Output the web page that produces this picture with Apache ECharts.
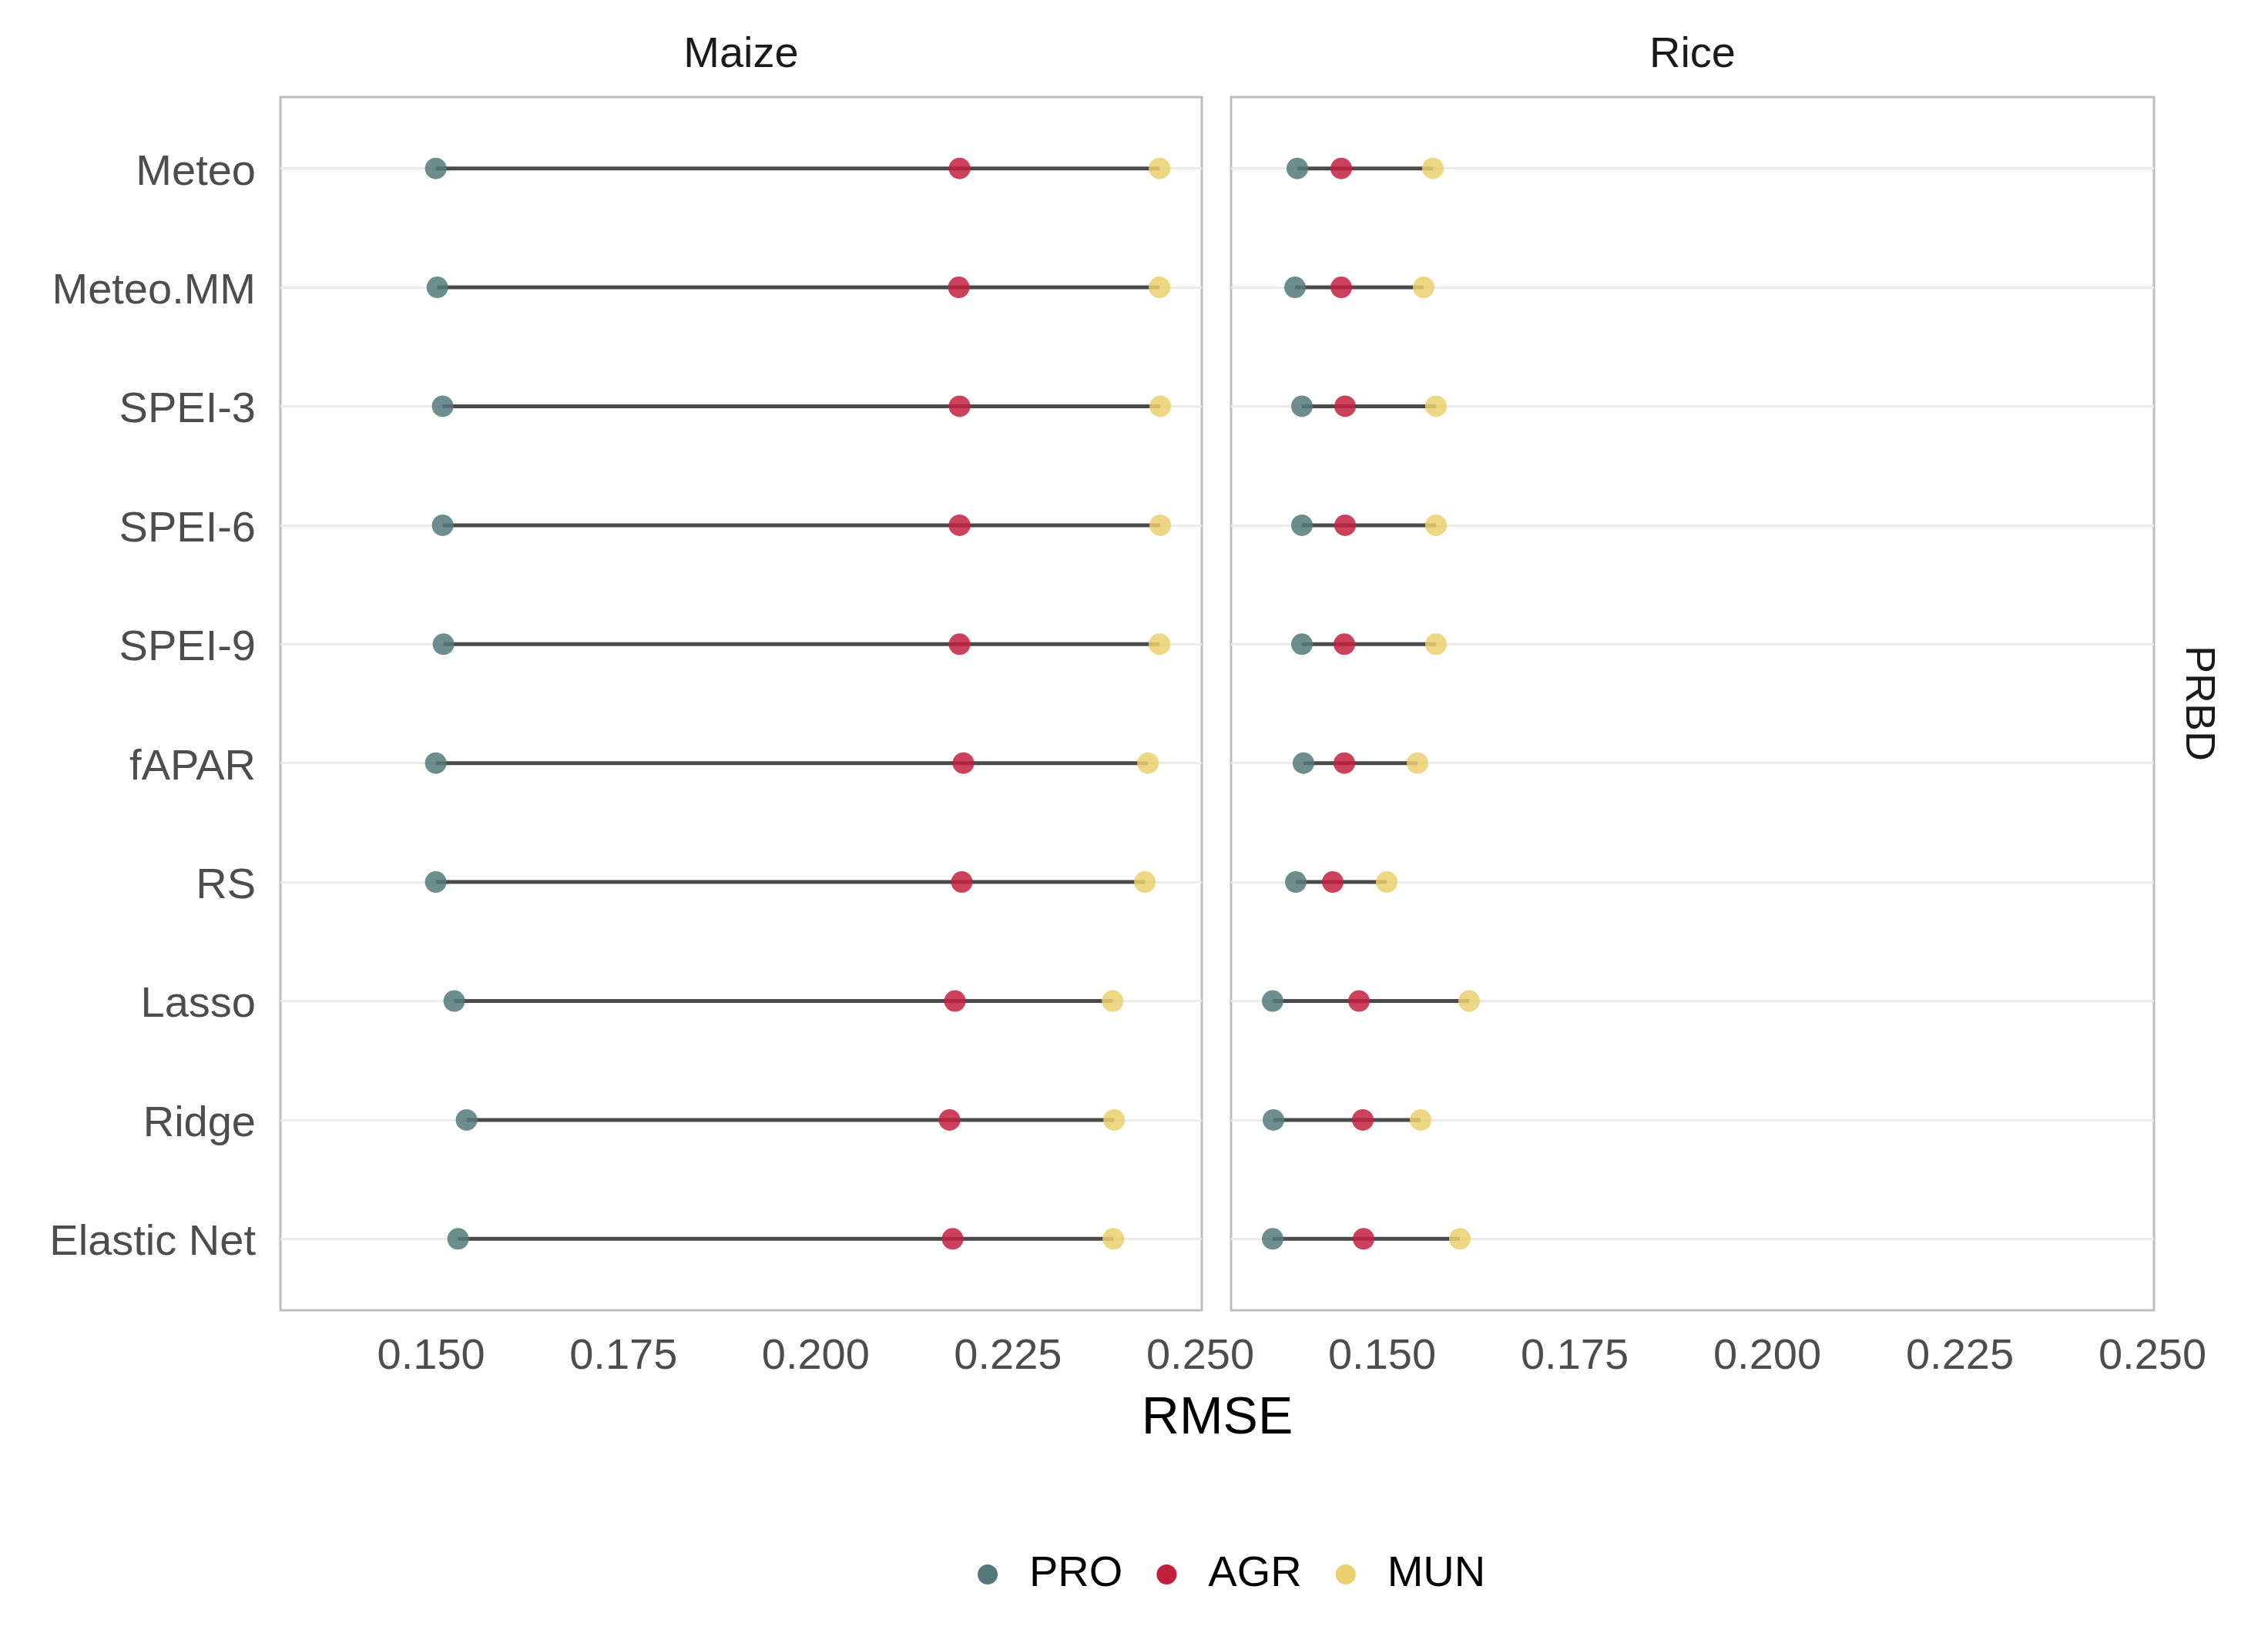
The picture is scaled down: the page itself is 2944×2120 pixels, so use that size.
<!DOCTYPE html>
<html>
<head>
<meta charset="utf-8">
<script src="https://cdn.jsdelivr.net/npm/echarts@6/dist/echarts.min.js"></script>
<style>
html,body{margin:0;padding:0;background:#fff;}
#chart{width:2944px;height:2120px;}
</style>
</head>
<body>
<div id="chart"></div>
<script>
var categories = ['Meteo','Meteo.MM','SPEI-3','SPEI-6','SPEI-9','fAPAR','RS','Lasso','Ridge','Elastic Net'];
var panels = ['Maize','Rice'];
var seriesNames = ['PRO','AGR','MUN'];
var xTicks = [0.150, 0.175, 0.200, 0.225, 0.250];

var maizePRO = [0.1506,0.1508,0.1515,0.1515,0.1516,0.1506,0.1506,0.1530,0.1546,0.1535];
var maizeAGR = [0.2187,0.2186,0.2187,0.2187,0.2187,0.2192,0.2190,0.2181,0.2174,0.2178];
var maizeMUN = [0.2447,0.2447,0.2448,0.2448,0.2447,0.2432,0.2428,0.2386,0.2388,0.2387];

var ricePRO = [0.1390,0.1387,0.1396,0.1396,0.1396,0.1398,0.1388,0.1358,0.1359,0.1358];
var riceAGR = [0.1447,0.1447,0.1452,0.1452,0.1451,0.1451,0.1436,0.1470,0.1475,0.1476];
var riceMUN = [0.1566,0.1554,0.1570,0.1570,0.1570,0.1546,0.1506,0.1613,0.1550,0.1601];

var colors = {PRO:'#55797b', AGR:'#c3203f', MUN:'#ebd06f'};
var FONT = 'Liberation Sans, Arial, sans-serif';

var panelData = [
  {PRO: maizePRO, AGR: maizeAGR, MUN: maizeMUN},
  {PRO: ricePRO, AGR: riceAGR, MUN: riceMUN}
];

var yIdx = categories.map(function(c,i){return i;});

var grids = [
  {left:364, right:1384, top:126, bottom:419, show:true, borderColor:'#bdbdbd', borderWidth:3, backgroundColor:'transparent'},
  {left:1598, right:148, top:126, bottom:419, show:true, borderColor:'#bdbdbd', borderWidth:3, backgroundColor:'transparent'}
];

var xAxes = [0,1].map(function(g){
  return {
    type:'value', gridIndex:g, min:0.1304, max:0.2502,
    axisLine:{show:false}, axisTick:{show:false, customValues:xTicks},
    splitLine:{show:false},
    axisLabel:{customValues:xTicks, formatter:function(v){return v.toFixed(3);},
      fontFamily:FONT, fontSize:56, color:'#4d4d4d', margin:33}
  };
});

var yAxes = [0,1].map(function(g){
  return {
    type:'value', gridIndex:g, min:-0.6, max:9.6, inverse:true,
    axisLine:{show:false}, axisTick:{show:false, customValues:yIdx},
    splitLine:{show:true, lineStyle:{color:'#ebebeb', width:3}},
    axisLabel:{show:g===0, customValues:yIdx, formatter:function(v){return categories[Math.round(v)];},
      fontFamily:FONT, fontSize:56, color:'#4d4d4d', margin:32, verticalAlign:'top', lineHeight:11}
  };
});

var series = [];
panelData.forEach(function(pd, g){
  var segs = categories.map(function(c,i){
    var vals = [pd.PRO[i], pd.AGR[i], pd.MUN[i]];
    return [Math.min.apply(null, vals), Math.max.apply(null, vals), i];
  });
  series.push({
    type:'custom', xAxisIndex:g, yAxisIndex:g, z:1, silent:true,
    encode:{x:[0,1], y:2},
    data: segs,
    renderItem:function(params, api){
      var p1 = api.coord([api.value(0), api.value(2)]);
      var p2 = api.coord([api.value(1), api.value(2)]);
      return {type:'line', shape:{x1:p1[0], y1:p1[1], x2:p2[0], y2:p2[1]},
        style:{stroke:'#4a4a4a', lineWidth:5}};
    }
  });
  seriesNames.forEach(function(name){
    series.push({
      type:'scatter', name:name, xAxisIndex:g, yAxisIndex:g, z:3,
      symbol:'circle', symbolSize:28,
      itemStyle:{color:colors[name], opacity:0.85},
      data: categories.map(function(c,i){return [pd[name][i], i];})
    });
  });
});

var option = {
  backgroundColor:'#fff',
  animation:false,
  grid: grids,
  xAxis: xAxes,
  yAxis: yAxes,
  legend:{
    data: seriesNames.map(function(n){return {name:n, itemStyle:{color:colors[n], opacity:1}};}),
    left:1264, top:2011, orient:'horizontal',
    icon:'circle', itemWidth:26, itemHeight:26, itemGap:44,
    textStyle:{fontFamily:FONT, fontSize:56, color:'#000', padding:[0,0,0,36]}
  },
  graphic:[
    {type:'text', style:{text:'Maize', x:962, y:72, align:'center', verticalAlign:'middle', font:'56px ' + FONT, fill:'#1a1a1a'}},
    {type:'text', style:{text:'Rice', x:2197, y:72, align:'center', verticalAlign:'middle', font:'56px ' + FONT, fill:'#1a1a1a'}},
    {type:'text', style:{text:'RMSE', x:1580, y:1842, align:'center', verticalAlign:'middle', font:'68px ' + FONT, fill:'#000'}},
    {type:'text', x:2853, y:913, rotation:-Math.PI/2, style:{text:'PRBD', x:0, y:0, align:'center', verticalAlign:'middle', font:'54px ' + FONT, fill:'#1a1a1a'}}
  ],
  series: series
};

var chart = echarts.init(document.getElementById('chart'), null, {renderer:'canvas'});
chart.setOption(option);
</script>
</body>
</html>
